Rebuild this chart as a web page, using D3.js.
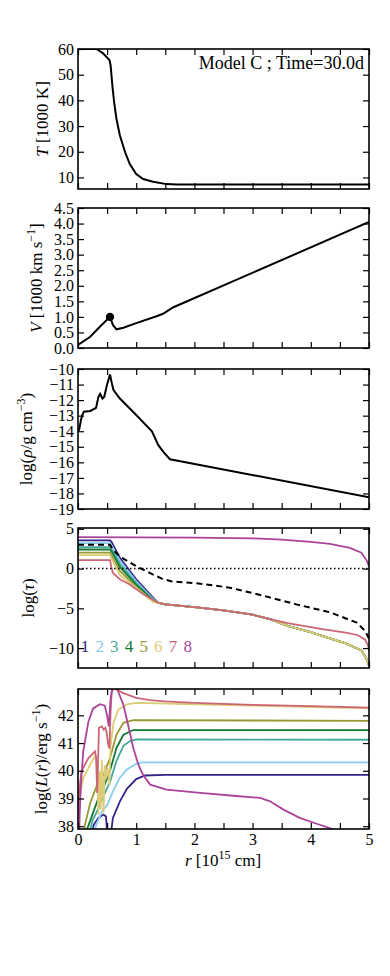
<!DOCTYPE html>
<html>
<head>
<meta charset="utf-8">
<script src="https://cdn.jsdelivr.net/npm/d3@7"></script>
<style>
  body { margin: 0; background: #fff; }
  svg { display: block; font-family: "Liberation Serif", "DejaVu Serif", serif; }
</style>
</head>
<body>
<svg id="chart" width="390" height="976"></svg>
<script>
// ---- data (r in 1e15 cm) ----
const rTickValues = [0, 0.5, 1, 1.5, 2, 2.5, 3, 3.5, 4, 4.5, 5];
const rTickLabels = [0, 1, 2, 3, 4, 5];

const tempTicks = [10, 20, 30, 40, 50, 60];
const tempR = [0, 0.32, 0.43, 0.54, 0.56, 0.59, 0.62, 0.66, 0.72, 0.81, 0.89, 1.0, 1.12, 1.29, 1.52, 1.7, 5.0];
const tempT = [60, 60, 58.3, 55.7, 53.7, 45.9, 39.4, 32.9, 26.3, 19.8, 15.2, 11.3, 9.4, 8.3, 7.4, 7.3, 7.3];

const velTicks = [0, 0.5, 1, 1.5, 2, 2.5, 3, 3.5, 4, 4.5];
const velR = [0, 0.21, 0.38, 0.55, 0.6, 0.66, 0.78, 1.0, 1.35, 1.46, 1.64, 5.0];
const velV = [0.1, 0.36, 0.69, 1.0, 0.74, 0.6, 0.65, 0.8, 1.02, 1.1, 1.31, 4.05];
const velDot = [0.55, 1.0];

const rhoTicks = [-10, -11, -12, -13, -14, -15, -16, -17, -18, -19];
const rhoR = [0, 0.02, 0.05, 0.07, 0.1, 0.21, 0.31, 0.35, 0.38, 0.42, 0.45, 0.5, 0.55, 0.58, 0.61, 0.72, 1.0, 1.27, 1.38, 1.47, 1.58, 5.0];
const rhoV = [-14.0, -13.9, -13.3, -13.0, -12.75, -12.7, -12.5, -11.8, -11.6, -11.9, -11.8, -11.0, -10.35, -10.9, -11.35, -11.9, -12.96, -14.0, -14.9, -15.35, -15.8, -18.25];

const tauTicks = [5, 0, -5, -10];
const bandLabels = ["1", "2", "3", "4", "5", "6", "7", "8"];
const bandColors = ["#332288", "#88CCEE", "#44AA99", "#117733", "#999933", "#DDCC77", "#CC6677", "#AA4499"];
const tauTail = [[1.5, -4.5], [2.0, -4.85], [2.5, -5.25], [3.0, -5.8], [3.3, -6.35], [3.6, -7.2], [4.0, -8.0], [4.3, -8.7], [4.6, -9.4], [4.87, -10.3], [4.96, -11.4], [5.0, -12.2]];
const tauTailRed = [[1.5, -4.5], [2.0, -4.85], [2.5, -5.25], [3.0, -5.8], [3.3, -6.35], [3.6, -6.85], [4.2, -7.6], [4.6, -8.05], [4.8, -8.35], [4.93, -8.9], [4.98, -9.6], [5.0, -10.3]];
const tau1 = [[0, 3.55], [0.55, 3.55], [0.58, 3.3], [0.72, 1.35], [1.0, -1.35], [1.29, -3.65], [1.38, -4.3]];
const tau2 = [[0, 3.2], [0.55, 3.2], [0.58, 2.9], [0.72, 1.0], [1.0, -1.6], [1.29, -3.8], [1.38, -4.3]];
const tau3 = [[0, 2.7], [0.55, 2.7], [0.58, 2.4], [0.72, 0.6], [1.0, -1.85], [1.29, -3.9], [1.38, -4.3]];
const tau4 = [[0, 2.4], [0.55, 2.4], [0.58, 2.1], [0.72, 0.2], [1.0, -2.05], [1.29, -4.0], [1.38, -4.3]];
const tau5 = [[0, 2.0], [0.55, 2.0], [0.58, 1.6], [0.72, -0.3], [1.0, -2.3], [1.29, -4.1], [1.38, -4.3]];
const tau6 = [[0, 1.7], [0.55, 1.7], [0.58, 1.2], [0.72, -0.8], [1.0, -2.45], [1.29, -4.2], [1.38, -4.3]];
const tau7 = [[0, 1.05], [0.55, 1.05], [0.57, 0.3], [0.6, -0.55], [0.72, -1.35], [0.89, -2.0], [1.0, -2.6], [1.17, -3.45], [1.38, -4.3]];
const tau8 = [[0, 3.95], [1, 3.93], [2, 3.9], [3, 3.8], [3.5, 3.65], [4, 3.35], [4.33, 3.1], [4.67, 2.6], [4.87, 2.0], [4.96, 1.0], [5.0, 0.3]];
const tauMean = [[0, 3.0], [0.55, 3.0], [0.6, 2.4], [0.72, 1.5], [1.0, 0.3], [1.29, -0.75], [1.45, -1.3], [1.6, -1.6], [2.1, -1.9], [2.61, -2.4], [3.18, -3.4], [3.75, -4.5], [4.33, -5.5], [4.79, -6.8], [4.93, -7.8], [5.0, -8.8]];

const lumTicks = [38, 39, 40, 41, 42];
const lum1 = [[0.25, 37.8], [0.27, 38.05], [0.35, 38.3], [0.44, 38.42], [0.48, 38.35], [0.5, 37.8], [0.57, 37.8], [0.6, 38.3], [0.72, 38.9], [0.84, 39.35], [1.0, 39.7], [1.15, 39.83], [1.5, 39.85], [5, 39.85]];
const lum2 = [[0.28, 37.8], [0.32, 38.1], [0.43, 38.6], [0.5, 38.75], [0.61, 39.3], [0.72, 39.75], [0.84, 40.05], [1.0, 40.25], [1.1, 40.3], [5, 40.3]];
const lum3 = [[0.2, 37.8], [0.25, 38.2], [0.33, 38.55], [0.43, 39.05], [0.55, 39.6], [0.66, 40.35], [0.78, 40.9], [0.9, 41.08], [1.0, 41.13], [5, 41.12]];
const lum4 = [[0.14, 37.8], [0.21, 38.2], [0.33, 38.9], [0.44, 39.4], [0.55, 40.0], [0.66, 40.82], [0.78, 41.3], [0.95, 41.47], [5, 41.47]];
const lum5 = [[0.1, 37.8], [0.12, 38.06], [0.21, 38.84], [0.33, 39.5], [0.44, 39.86], [0.55, 40.46], [0.66, 41.3], [0.78, 41.73], [0.95, 41.83], [5, 41.8]];
const lum6 = [[0.0, 38.2], [0.02, 38.96], [0.09, 39.74], [0.21, 40.22], [0.29, 40.52], [0.33, 40.3], [0.35, 38.42], [0.37, 40.0], [0.39, 38.6], [0.41, 40.4], [0.44, 38.5], [0.46, 40.2], [0.48, 39.7], [0.51, 40.1], [0.54, 39.5], [0.56, 40.9], [0.61, 41.73], [0.69, 42.2], [0.84, 42.4], [1.0, 42.45], [2, 42.4], [3, 42.35], [4, 42.3], [5, 42.25]];
const lum7 = [[0.0, 38.6], [0.02, 39.26], [0.06, 40.0], [0.18, 40.46], [0.29, 40.7], [0.31, 40.5], [0.33, 39.2], [0.36, 41.55], [0.41, 41.6], [0.44, 41.48], [0.47, 41.55], [0.49, 41.4], [0.52, 40.94], [0.54, 40.8], [0.56, 42.14], [0.58, 42.86], [0.62, 43.0], [0.66, 42.93], [0.78, 42.8], [1.0, 42.63], [1.24, 42.55], [1.5, 42.5], [2, 42.45], [3, 42.38], [4, 42.33], [5, 42.28]];
const lum8 = [[0.02, 37.8], [0.03, 38.5], [0.05, 39.5], [0.09, 40.7], [0.18, 41.78], [0.26, 42.25], [0.38, 42.4], [0.46, 42.35], [0.5, 42.0], [0.53, 41.6], [0.56, 42.6], [0.6, 43.1], [0.65, 43.1], [0.69, 42.86], [0.78, 42.38], [0.86, 41.66], [0.95, 40.82], [1.04, 40.2], [1.12, 39.85], [1.24, 39.5], [1.52, 39.32], [2.1, 39.2], [2.67, 39.1], [3.13, 39.02], [3.3, 38.9], [3.53, 38.6], [3.81, 38.3], [4.1, 38.09], [4.3, 37.95], [4.5, 37.8], [5, 37.5]];

// ---- layout ----
const svg = d3.select("#chart");
const left = 78, right = 369, panelH = 140;
const serif = "Liberation Serif, DejaVu Serif, serif";
const fontPx = 17, tickPx = 16;

const x = d3.scaleLinear().domain([0, 5]).range([left, right]);

function panel(id, top, domain, ticks, fmt, showX) {
  const y = d3.scaleLinear().domain(domain).range([top + panelH, top]);
  const g = svg.append("g");

  g.append("clipPath").attr("id", "clip" + id)
    .append("rect").attr("x", left).attr("y", top).attr("width", right - left).attr("height", panelH);

  const plot = g.append("g").attr("clip-path", `url(#clip${id})`);

  const axes = g.append("g");
  axes.append("g").attr("transform", `translate(${left},0)`)
    .call(d3.axisLeft(y).tickValues(ticks).tickFormat(fmt).tickSizeInner(-6).tickSizeOuter(0).tickPadding(4));
  axes.append("g").attr("transform", `translate(${right},0)`)
    .call(d3.axisRight(y).tickValues(ticks).tickFormat("").tickSizeInner(-6).tickSizeOuter(0));
  axes.append("g").attr("transform", `translate(0,${top})`)
    .call(d3.axisTop(x).tickValues(rTickValues).tickFormat("").tickSizeInner(-6).tickSizeOuter(0));
  axes.append("g").attr("transform", `translate(0,${top + panelH})`)
    .call(d3.axisBottom(x).tickValues(rTickValues)
      .tickFormat(d => showX && rTickLabels.includes(d) ? d3.format("d")(d) : "")
      .tickSizeInner(-6).tickSizeOuter(0).tickPadding(5));
  axes.selectAll(".domain").remove();
  axes.selectAll(".tick line").attr("stroke", "#000").attr("stroke-width", 1.2);
  axes.selectAll("text")
    .attr("font-family", serif).attr("font-size", tickPx).attr("fill", "#000");

  g.append("rect").attr("x", left).attr("y", top).attr("width", right - left).attr("height", panelH)
    .attr("fill", "none").attr("stroke", "#000").attr("stroke-width", 1.6);

  return { plot, y, top, g };
}

function addPieces(t, pieces) {
  pieces.forEach(pc => {
    const s = t.append("tspan").text(pc.t);
    if (pc.i) s.attr("font-style", "italic");
    if (pc.sup) s.attr("font-size", 12).attr("dy", -7);
    if (pc.back) s.attr("dy", 7);
  });
}

function yLabel(p, cx, pieces) {
  const t = svg.append("text")
    .attr("transform", `translate(${cx},${p.top + panelH / 2}) rotate(-90)`)
    .attr("text-anchor", "middle").attr("dy", "0.32em")
    .attr("font-family", serif).attr("font-size", fontPx);
  addPieces(t, pieces);
}

const line = (yS) => d3.line().x(d => x(d[0])).y(d => yS(d[1]));
const pairs = (rs, vs) => rs.map((r, i) => [r, vs[i]]);

// ---- panel 1: temperature ----
const p1 = panel(1, 49, [5.5, 60], tempTicks, d3.format("d"), false);
p1.plot.append("path").datum(pairs(tempR, tempT)).attr("d", line(p1.y))
  .attr("fill", "none").attr("stroke", "#000").attr("stroke-width", 2);
p1.g.append("text").attr("x", 364).attr("y", 69).attr("text-anchor", "end")
  .attr("font-family", serif).attr("font-size", 18).text("Model C ; Time=30.0d");
yLabel(p1, 43, [{ t: "T", i: 1 }, { t: " [1000 K]" }]);

// ---- panel 2: velocity ----
const p2 = panel(2, 208, [0, 4.5], velTicks, d3.format(".1f"), false);
p2.plot.append("path").datum(pairs(velR, velV)).attr("d", line(p2.y))
  .attr("fill", "none").attr("stroke", "#000").attr("stroke-width", 2);
p2.plot.append("circle").attr("cx", x(velDot[0])).attr("cy", p2.y(velDot[1])).attr("r", 4.2).attr("fill", "#000");
yLabel(p2, 37, [{ t: "V", i: 1 }, { t: " [1000 km s" }, { t: "−1", sup: 1 }, { t: "]", back: 1 }]);

// ---- panel 3: density ----
const p3 = panel(3, 369, [-19, -10], rhoTicks, d3.format("d"), false);
p3.plot.append("path").datum(pairs(rhoR, rhoV)).attr("d", line(p3.y))
  .attr("fill", "none").attr("stroke", "#000").attr("stroke-width", 2);
yLabel(p3, 27, [{ t: "log(" }, { t: "ρ", i: 1 }, { t: "/g cm" }, { t: "−3", sup: 1 }, { t: ")", back: 1 }]);

// ---- panel 4: optical depth ----
const p4 = panel(4, 528, [-12.5, 5.1], tauTicks, d3.format("d"), false);
const tauSeries = [
  tau1.concat(tauTail), tau2.concat(tauTail), tau3.concat(tauTail), tau4.concat(tauTail),
  tau5.concat(tauTail), tau6.concat(tauTail), tau7.concat(tauTailRed), tau8
];
tauSeries.forEach((s, i) => {
  p4.plot.append("path").datum(s).attr("d", line(p4.y))
    .attr("fill", "none").attr("stroke", bandColors[i]).attr("stroke-width", 1.8);
});
p4.plot.append("path").datum(tauMean).attr("d", line(p4.y))
  .attr("fill", "none").attr("stroke", "#000").attr("stroke-width", 2).attr("stroke-dasharray", "6,4");
p4.plot.append("line").attr("x1", left).attr("x2", right).attr("y1", p4.y(0)).attr("y2", p4.y(0))
  .attr("stroke", "#000").attr("stroke-width", 1.4).attr("stroke-dasharray", "1.5,2.5");
p4.g.selectAll(".band").data(bandLabels).join("text")
  .attr("x", (d, i) => x(0.12 + i * 0.252)).attr("y", p4.y(-10.5))
  .attr("text-anchor", "middle").attr("font-family", serif).attr("font-size", fontPx)
  .attr("fill", (d, i) => bandColors[i]).text(d => d);
yLabel(p4, 29, [{ t: "log(" }, { t: "τ", i: 1 }, { t: ")" }]);

// ---- panel 5: luminosity ----
const p5 = panel(5, 689, [37.9, 42.95], lumTicks, d3.format("d"), true);
[lum1, lum2, lum3, lum4, lum5, lum6, lum7, lum8].forEach((s, i) => {
  p5.plot.append("path").datum(s).attr("d", line(p5.y))
    .attr("fill", "none").attr("stroke", bandColors[i]).attr("stroke-width", 1.8);
});
yLabel(p5, 42, [{ t: "log(" }, { t: "L", i: 1 }, { t: "(" }, { t: "r", i: 1 }, { t: ")/erg s" }, { t: "−1", sup: 1 }, { t: ")", back: 1 }]);

const xl = svg.append("text").attr("x", 223).attr("y", 866).attr("text-anchor", "middle")
  .attr("font-family", serif).attr("font-size", fontPx);
addPieces(xl, [{ t: "r", i: 1 }, { t: " [10" }, { t: "15", sup: 1 }, { t: " cm]", back: 1 }]);
</script>
</body>
</html>
